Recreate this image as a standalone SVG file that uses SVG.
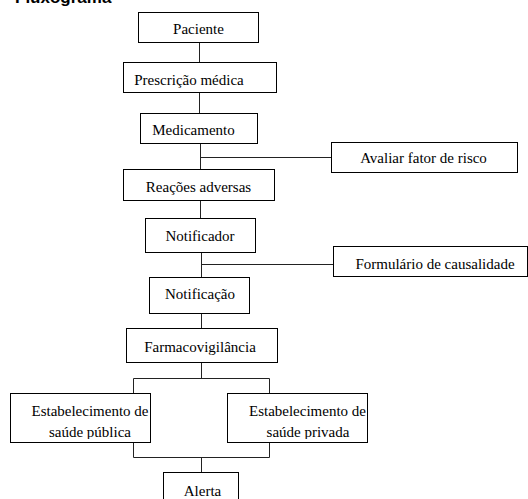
<svg xmlns="http://www.w3.org/2000/svg" width="528" height="499" viewBox="0 0 528 499">
  <style>
    .box { fill: #ffffff; stroke: #000000; stroke-width: 1; }
    .lbl { font-family: "Liberation Serif", "Times New Roman", serif; font-size: 15px; fill: #000000; text-anchor: middle; }
    .title { font-family: "Liberation Sans", Arial, sans-serif; font-size: 17px; font-weight: bold; fill: #000000; }
    .conn { fill: none; stroke: #222222; stroke-width: 1; }
  </style>
  <defs>
    <clipPath id="clipPub"><rect x="10" y="393" width="141" height="46"/></clipPath>
    <clipPath id="clipPriv"><rect x="227" y="393" width="141" height="46"/></clipPath>
  </defs>

  <rect x="0" y="0" width="528" height="499" fill="#ffffff"/>

  <text class="title" x="15" y="3">Fluxograma</text>

  <g id="connectors">
    <path class="conn" d="M199.5 42 V62"/>
    <path class="conn" d="M199.5 92 V113"/>
    <path class="conn" d="M200.5 143 V169"/>
    <path class="conn" d="M200.5 157.5 H331"/>
    <path class="conn" d="M200.5 200 V218"/>
    <path class="conn" d="M201.5 252 V277"/>
    <path class="conn" d="M201.5 264.5 H333"/>
    <path class="conn" d="M201.5 313 V328"/>
    <path class="conn" d="M201.5 362 V378.5"/>
    <path class="conn" d="M133.5 393 V378.5 H269.5 V393"/>
    <path class="conn" d="M133.5 442 V457.5 H269.5 V442"/>
    <path class="conn" d="M201.5 457.5 V472"/>
  </g>

  <g id="paciente">
    <rect class="box" x="138.5" y="12.5" width="120" height="30"/>
    <text class="lbl" x="198.5" y="34">Paciente</text>
  </g>
  <g id="prescricao">
    <rect class="box" x="123.5" y="62.5" width="153" height="30"/>
    <text class="lbl" x="189" y="85">Prescrição médica</text>
  </g>
  <g id="medicamento">
    <rect class="box" x="140.5" y="113.5" width="117" height="30"/>
    <text class="lbl" x="193.5" y="135">Medicamento</text>
  </g>
  <g id="avaliar">
    <rect class="box" x="331.5" y="142.5" width="186" height="30"/>
    <text class="lbl" x="423.5" y="163">Avaliar fator de risco</text>
  </g>
  <g id="reacoes">
    <rect class="box" x="123.5" y="169.5" width="151" height="31"/>
    <text class="lbl" x="198.5" y="192">Reações adversas</text>
  </g>
  <g id="notificador">
    <rect class="box" x="145.5" y="218.5" width="110" height="34"/>
    <text class="lbl" x="200" y="241">Notificador</text>
  </g>
  <g id="formulario">
    <rect class="box" x="333.5" y="246.5" width="194" height="30"/>
    <text class="lbl" x="435" y="269">Formulário de causalidade</text>
  </g>
  <g id="notificacao">
    <rect class="box" x="149.5" y="277.5" width="100" height="36"/>
    <text class="lbl" x="200" y="299">Notificação</text>
  </g>
  <g id="farmacovigilancia">
    <rect class="box" x="126.5" y="328.5" width="151" height="34"/>
    <text class="lbl" x="200" y="352">Farmacovigilância</text>
  </g>
  <g id="estab-publica">
    <rect class="box" x="10.5" y="393.5" width="140" height="49"/>
    <text class="lbl" x="90" y="416">Estabelecimento de</text>
    <text class="lbl" x="90" y="437" clip-path="url(#clipPub)">saúde pública</text>
  </g>
  <g id="estab-privada">
    <rect class="box" x="227.5" y="393.5" width="140" height="49"/>
    <text class="lbl" x="307.5" y="416">Estabelecimento de</text>
    <text class="lbl" x="308" y="437" clip-path="url(#clipPriv)">saúde privada</text>
  </g>
  <g id="alerta">
    <rect class="box" x="163.5" y="472.5" width="75" height="40"/>
    <text class="lbl" x="202.5" y="496">Alerta</text>
  </g>
</svg>
